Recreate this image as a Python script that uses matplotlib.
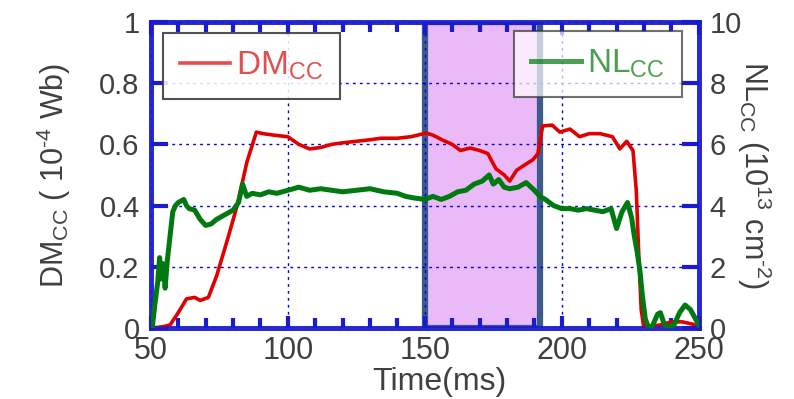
import matplotlib
matplotlib.use("Agg")
from matplotlib import pyplot as plt
from matplotlib.ticker import MultipleLocator, FormatStrFormatter

# Datos
t_dm = [51, 55, 57, 60, 63, 66, 68, 71, 74, 78, 81.5, 85, 88.5, 91, 95, 100,
        104, 108, 112, 116, 120, 125, 130, 134, 140, 145, 150.5, 153, 156.5,
        160, 163, 166.5, 170, 173, 176, 179, 181, 183.5, 186, 189.5, 191.3,
        193, 196.5, 199.3, 203, 206.5, 210, 214, 218.5, 221.2, 223.7, 226,
        227.2, 228.2, 229, 230, 232, 236, 240, 244, 248, 250]
dm = [0, 0.005, 0.01, 0.05, 0.095, 0.10, 0.09, 0.10, 0.17, 0.29, 0.40, 0.54,
      0.64, 0.635, 0.63, 0.625, 0.60, 0.585, 0.59, 0.60, 0.605, 0.61, 0.615,
      0.62, 0.62, 0.625, 0.637, 0.63, 0.614, 0.60, 0.58, 0.588, 0.58, 0.57,
      0.52, 0.50, 0.48, 0.515, 0.53, 0.55, 0.57, 0.66, 0.663, 0.64, 0.65,
      0.625, 0.635, 0.635, 0.625, 0.585, 0.61, 0.58, 0.45, 0.22, 0.06, 0.0,
      0.005, 0.01, 0.02, 0.02, 0.012, 0.0]

t_nl = [50.5, 51.5, 52.5, 53.2, 53.8, 54.5, 55.2, 56, 57, 58, 59, 60, 61, 62,
        63, 64, 66, 68, 70, 72, 74, 76, 78, 80, 82, 83.5, 85, 87, 90, 93, 96,
        100, 104, 108, 112, 116, 120, 125, 130, 135, 140, 143, 146, 150, 153,
        156, 159, 162, 165, 168, 171, 173.5, 175, 177, 179, 181, 184, 187, 190,
        192, 194, 197, 200, 203, 206, 209, 212, 215, 218, 220, 222, 224, 225.5,
        226.5, 227.5, 228.5, 229.5, 230.5, 231.5, 233, 235, 236, 237.5, 239,
        241, 243, 245, 247, 248.5, 250]
nl = [0, 0.8, 1.5, 2.3, 1.6, 2.1, 1.3, 2.2, 3.0, 3.8, 4.0, 4.1, 4.15, 4.2,
      4.0, 3.9, 3.85, 3.55, 3.35, 3.4, 3.55, 3.65, 3.75, 3.85, 4.1, 4.7, 4.3,
      4.4, 4.35, 4.45, 4.4, 4.5, 4.6, 4.5, 4.55, 4.5, 4.45, 4.5, 4.55, 4.45,
      4.4, 4.3, 4.25, 4.2, 4.3, 4.2, 4.3, 4.45, 4.5, 4.7, 4.8, 5.0, 4.7, 4.85,
      4.6, 4.55, 4.6, 4.75, 4.5, 4.3, 4.2, 4.0, 3.9, 3.9, 3.85, 3.9, 3.85,
      3.8, 3.9, 3.25, 3.8, 4.1, 3.6, 3.0, 2.5, 1.9, 1.0, 0.3, 0.05, 0.05,
      0.45, 0.5, 0.1, 0.05, 0.1, 0.5, 0.75, 0.6, 0.35, 0.1]

ventana = [150, 192]

plt.rcParams['font.family'] = ['Liberation Sans', 'DejaVu Sans']
plt.rcParams['mathtext.default'] = 'regular'

gris = '#404040'
azul = '#1a1ad0'

fig = plt.figure(figsize=(7.94, 3.99), dpi=100)
ax = fig.add_axes([0.19, 0.178, 0.69, 0.767])
ax2 = ax.twinx()

# Ventana sombreada
ax.axvspan(ventana[0], ventana[1], facecolor='#eab9f8', edgecolor='#3b5b8a',
           lw=4.5, zorder=1)

l1, = ax.plot(t_dm, dm, color='#e00000', lw=2.6, zorder=3,
              label=r'DM$_{CC}$')
l2, = ax2.plot(t_nl, nl, color='#007a10', lw=3.6, zorder=3,
               label=r'NL$_{CC}$')

ax.set_xlim(50, 250)
ax.set_ylim(0, 1)
ax2.set_ylim(0, 10)

ax.xaxis.set_major_locator(MultipleLocator(50))
ax.xaxis.set_minor_locator(MultipleLocator(10))
ax.yaxis.set_major_locator(MultipleLocator(0.2))
ax.yaxis.set_major_formatter(FormatStrFormatter('%g'))
ax2.yaxis.set_major_locator(MultipleLocator(2))

ax.grid(True, which='major', color='#0000dd', ls=(0, (2, 3)), lw=1, zorder=2)

for a in (ax, ax2):
    for s in a.spines.values():
        s.set_color(azul)
        s.set_alpha(0.75)
        s.set_linewidth(3.5)

ax.tick_params(axis='x', which='both', direction='in', top=True, color=azul,
               width=3, labelsize=22, labelcolor=gris, pad=6)
ax.tick_params(axis='x', which='major', length=9)
ax.tick_params(axis='x', which='minor', length=7)
ax.tick_params(axis='y', direction='in', length=12, width=3, color=azul,
               labelsize=21, labelcolor=gris, right=False, pad=8)
ax2.tick_params(axis='y', direction='in', length=12, width=3, color=azul,
                labelsize=21, labelcolor=gris, pad=8)

ax.set_xlabel('Time(ms)', fontsize=23, color=gris)
ax.xaxis.set_label_coords(0.527, -0.128)
ax.set_ylabel('DM$_{CC}$ ( 10$^{\u20104}$ Wb)', fontsize=22, color=gris)
ax.yaxis.set_label_coords(-0.142, 0.5)
ax2.set_ylabel('NL$_{CC}$ (10$^{13}$ cm$^{\u20102}$)', fontsize=22,
               color=gris, rotation=-90, va='bottom')
ax2.yaxis.set_label_coords(1.066, 0.5)

leg1 = ax.legend(handles=[l1], loc='upper left', fontsize=24,
                 bbox_to_anchor=(0.022, 0.964), borderaxespad=0,
                 fancybox=False, edgecolor='#333333', framealpha=0.85,
                 handlelength=1.5, handletextpad=0.2, borderpad=0.5)
leg1.get_frame().set_linewidth(1.5)
leg1.get_texts()[0].set_color('#e05050')
for h in leg1.legend_handles:
    h.set_alpha(0.7)
leg1.set_zorder(5)

leg2 = ax2.legend(handles=[l2], loc='upper right', fontsize=24,
                  bbox_to_anchor=(0.969, 0.971), borderaxespad=0,
                  fancybox=False, edgecolor='#333333', framealpha=0.7,
                  handlelength=1.5, handletextpad=0.2, borderpad=0.5)
leg2.get_frame().set_linewidth(1.5)
leg2.get_texts()[0].set_color('#4aa050')
for h in leg2.legend_handles:
    h.set_alpha(0.7)

fig.savefig('out.png', dpi=100)
